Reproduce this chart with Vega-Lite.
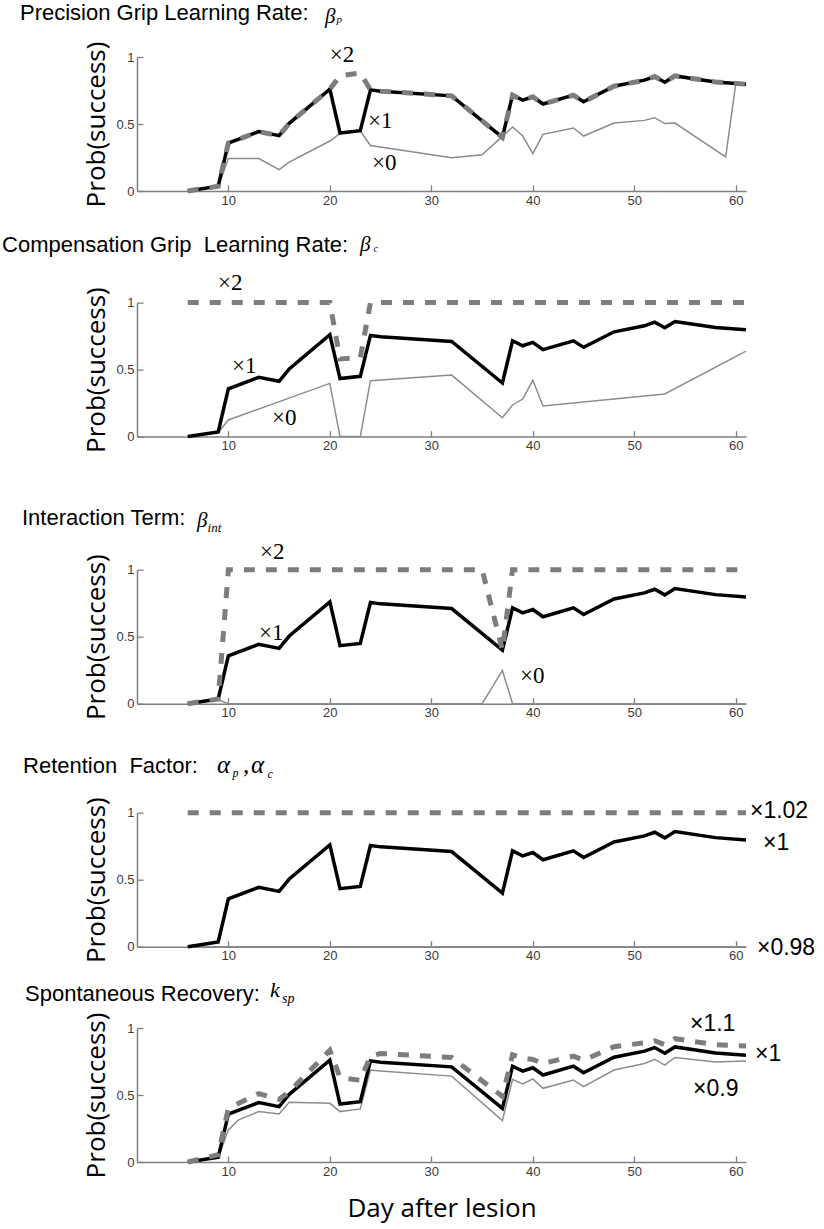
{
  "$schema": "https://vega.github.io/schema/vega-lite/v6.json",
  "padding": {"left": 2, "top": 2, "right": 2, "bottom": 2},
  "background": "white",
  "config": {
    "view": {"stroke": null},
    "axis": {"grid": false, "domainColor": "#7f7f7f", "domainWidth": 1.5, "tickColor": "#7f7f7f", "tickWidth": 1.3, "tickSize": -6, "labelFont": "Liberation Sans", "labelFontSize": 13, "labelColor": "#3a3a3a", "labelPadding": 9, "titleFont": "Open Sans", "titleFontSize": 26, "titleFontWeight": "normal", "titleColor": "#000000"},
    "axisY": {"titlePadding": 6},
    "axisX": {"titlePadding": 17}
  },
  "datasets": {
    "base": [{"day":6,"p":0},{"day":9,"p":0.035},{"day":10,"p":0.357},{"day":13,"p":0.443},{"day":15,"p":0.413},{"day":16,"p":0.505},{"day":20,"p":0.76},{"day":21,"p":0.433},{"day":23,"p":0.45},{"day":24,"p":0.755},{"day":25,"p":0.745},{"day":32,"p":0.71},{"day":37,"p":0.4},{"day":38,"p":0.715},{"day":39,"p":0.678},{"day":40,"p":0.703},{"day":41,"p":0.649},{"day":44,"p":0.715},{"day":45,"p":0.666},{"day":48,"p":0.782},{"day":51,"p":0.827},{"day":52,"p":0.854},{"day":53,"p":0.812},{"day":54,"p":0.859},{"day":58,"p":0.814},{"day":61,"p":0.797}],
    "s1": [
      {"s":"hi","day":6,"p":0},{"s":"hi","day":9,"p":0.035},{"s":"hi","day":10,"p":0.357},{"s":"hi","day":13,"p":0.443},{"s":"hi","day":15,"p":0.413},{"s":"hi","day":16,"p":0.505},{"s":"hi","day":20,"p":0.76},{"s":"hi","day":21,"p":0.86},{"s":"hi","day":23,"p":0.88},{"s":"hi","day":24,"p":0.755},{"s":"hi","day":25,"p":0.745},{"s":"hi","day":32,"p":0.71},{"s":"hi","day":37,"p":0.4},{"s":"hi","day":38,"p":0.715},{"s":"hi","day":39,"p":0.678},{"s":"hi","day":40,"p":0.703},{"s":"hi","day":41,"p":0.649},{"s":"hi","day":44,"p":0.715},{"s":"hi","day":45,"p":0.666},{"s":"hi","day":48,"p":0.782},{"s":"hi","day":51,"p":0.827},{"s":"hi","day":52,"p":0.854},{"s":"hi","day":53,"p":0.812},{"s":"hi","day":54,"p":0.859},{"s":"hi","day":58,"p":0.814},{"s":"hi","day":61,"p":0.797},
      {"s":"lo","day":6,"p":0},{"s":"lo","day":9,"p":0.035},{"s":"lo","day":10,"p":0.242},{"s":"lo","day":13,"p":0.242},{"s":"lo","day":15,"p":0.16},{"s":"lo","day":16,"p":0.215},{"s":"lo","day":20,"p":0.373},{"s":"lo","day":21,"p":0.43},{"s":"lo","day":23,"p":0.45},{"s":"lo","day":24,"p":0.34},{"s":"lo","day":32,"p":0.249},{"s":"lo","day":35,"p":0.271},{"s":"lo","day":37,"p":0.408},{"s":"lo","day":38,"p":0.478},{"s":"lo","day":39,"p":0.41},{"s":"lo","day":40,"p":0.279},{"s":"lo","day":41,"p":0.423},{"s":"lo","day":44,"p":0.47},{"s":"lo","day":45,"p":0.41},{"s":"lo","day":48,"p":0.507},{"s":"lo","day":51,"p":0.527},{"s":"lo","day":52,"p":0.547},{"s":"lo","day":53,"p":0.503},{"s":"lo","day":54,"p":0.507},{"s":"lo","day":59,"p":0.254},{"s":"lo","day":60,"p":0.806}
    ],
    "s2": [
      {"s":"hi","day":6,"p":1},{"s":"hi","day":9,"p":1},{"s":"hi","day":10,"p":1},{"s":"hi","day":13,"p":1},{"s":"hi","day":15,"p":1},{"s":"hi","day":16,"p":1},{"s":"hi","day":20,"p":1},{"s":"hi","day":21,"p":0.58},{"s":"hi","day":23,"p":0.59},{"s":"hi","day":24,"p":1},{"s":"hi","day":25,"p":1},{"s":"hi","day":32,"p":1},{"s":"hi","day":37,"p":1},{"s":"hi","day":38,"p":1},{"s":"hi","day":39,"p":1},{"s":"hi","day":40,"p":1},{"s":"hi","day":41,"p":1},{"s":"hi","day":44,"p":1},{"s":"hi","day":45,"p":1},{"s":"hi","day":48,"p":1},{"s":"hi","day":51,"p":1},{"s":"hi","day":52,"p":1},{"s":"hi","day":53,"p":1},{"s":"hi","day":54,"p":1},{"s":"hi","day":58,"p":1},{"s":"hi","day":61,"p":1},
      {"s":"lo","day":6,"p":0},{"s":"lo","day":9,"p":0.03},{"s":"lo","day":10,"p":0.124},{"s":"lo","day":20,"p":0.397},{"s":"lo","day":21,"p":0},{"s":"lo","day":23,"p":0},{"s":"lo","day":24,"p":0.417},{"s":"lo","day":32,"p":0.459},{"s":"lo","day":37,"p":0.141},{"s":"lo","day":38,"p":0.236},{"s":"lo","day":39,"p":0.28},{"s":"lo","day":40,"p":0.42},{"s":"lo","day":41,"p":0.228},{"s":"lo","day":53,"p":0.318},{"s":"lo","day":61,"p":0.638}
    ],
    "s3": [
      {"s":"hi","day":6,"p":0},{"s":"hi","day":9,"p":0.035},{"s":"hi","day":10,"p":1},{"s":"hi","day":13,"p":1},{"s":"hi","day":15,"p":1},{"s":"hi","day":16,"p":1},{"s":"hi","day":20,"p":1},{"s":"hi","day":21,"p":1},{"s":"hi","day":23,"p":1},{"s":"hi","day":24,"p":1},{"s":"hi","day":25,"p":1},{"s":"hi","day":32,"p":1},{"s":"hi","day":35,"p":1},{"s":"hi","day":37,"p":0.4},{"s":"hi","day":38,"p":1},{"s":"hi","day":39,"p":1},{"s":"hi","day":40,"p":1},{"s":"hi","day":41,"p":1},{"s":"hi","day":44,"p":1},{"s":"hi","day":45,"p":1},{"s":"hi","day":48,"p":1},{"s":"hi","day":51,"p":1},{"s":"hi","day":52,"p":1},{"s":"hi","day":53,"p":1},{"s":"hi","day":54,"p":1},{"s":"hi","day":58,"p":1},{"s":"hi","day":61,"p":1},
      {"s":"lo","day":6,"p":0},{"s":"lo","day":9,"p":0.03},{"s":"lo","day":10,"p":0},{"s":"lo","day":35,"p":0},{"s":"lo","day":37,"p":0.248},{"s":"lo","day":38,"p":0},{"s":"lo","day":61,"p":0}
    ],
    "s4": [
      {"s":"hi","day":6,"p":1},{"s":"hi","day":9,"p":1},{"s":"hi","day":10,"p":1},{"s":"hi","day":13,"p":1},{"s":"hi","day":15,"p":1},{"s":"hi","day":16,"p":1},{"s":"hi","day":20,"p":1},{"s":"hi","day":21,"p":1},{"s":"hi","day":23,"p":1},{"s":"hi","day":24,"p":1},{"s":"hi","day":25,"p":1},{"s":"hi","day":32,"p":1},{"s":"hi","day":37,"p":1},{"s":"hi","day":38,"p":1},{"s":"hi","day":39,"p":1},{"s":"hi","day":40,"p":1},{"s":"hi","day":41,"p":1},{"s":"hi","day":44,"p":1},{"s":"hi","day":45,"p":1},{"s":"hi","day":48,"p":1},{"s":"hi","day":51,"p":1},{"s":"hi","day":52,"p":1},{"s":"hi","day":53,"p":1},{"s":"hi","day":54,"p":1},{"s":"hi","day":58,"p":1},{"s":"hi","day":61,"p":1},
      {"s":"lo","day":6,"p":0},{"s":"lo","day":9,"p":0},{"s":"lo","day":10,"p":0},{"s":"lo","day":20,"p":0},{"s":"lo","day":24,"p":0},{"s":"lo","day":32,"p":0},{"s":"lo","day":37,"p":0},{"s":"lo","day":44,"p":0},{"s":"lo","day":54,"p":0},{"s":"lo","day":61,"p":0}
    ],
    "s5": [
      {"s":"hi","day":6,"p":0},{"s":"hi","day":9,"p":0.054},{"s":"hi","day":10,"p":0.4},{"s":"hi","day":13,"p":0.51},{"s":"hi","day":15,"p":0.468},{"s":"hi","day":16,"p":0.525},{"s":"hi","day":20,"p":0.834},{"s":"hi","day":21,"p":0.63},{"s":"hi","day":23,"p":0.61},{"s":"hi","day":24,"p":0.79},{"s":"hi","day":25,"p":0.81},{"s":"hi","day":32,"p":0.78},{"s":"hi","day":37,"p":0.49},{"s":"hi","day":38,"p":0.8},{"s":"hi","day":39,"p":0.775},{"s":"hi","day":40,"p":0.765},{"s":"hi","day":41,"p":0.735},{"s":"hi","day":44,"p":0.79},{"s":"hi","day":45,"p":0.76},{"s":"hi","day":48,"p":0.86},{"s":"hi","day":51,"p":0.89},{"s":"hi","day":52,"p":0.905},{"s":"hi","day":53,"p":0.875},{"s":"hi","day":54,"p":0.92},{"s":"hi","day":58,"p":0.875},{"s":"hi","day":61,"p":0.865},
      {"s":"lo","day":6,"p":0},{"s":"lo","day":9,"p":0.03},{"s":"lo","day":10,"p":0.24},{"s":"lo","day":11,"p":0.314},{"s":"lo","day":13,"p":0.376},{"s":"lo","day":15,"p":0.359},{"s":"lo","day":16,"p":0.446},{"s":"lo","day":20,"p":0.438},{"s":"lo","day":21,"p":0.376},{"s":"lo","day":23,"p":0.396},{"s":"lo","day":24,"p":0.686},{"s":"lo","day":25,"p":0.68},{"s":"lo","day":32,"p":0.641},{"s":"lo","day":37,"p":0.309},{"s":"lo","day":38,"p":0.617},{"s":"lo","day":39,"p":0.582},{"s":"lo","day":40,"p":0.62},{"s":"lo","day":41,"p":0.55},{"s":"lo","day":44,"p":0.611},{"s":"lo","day":45,"p":0.562},{"s":"lo","day":48,"p":0.686},{"s":"lo","day":51,"p":0.735},{"s":"lo","day":52,"p":0.767},{"s":"lo","day":53,"p":0.723},{"s":"lo","day":54,"p":0.78},{"s":"lo","day":58,"p":0.747},{"s":"lo","day":61,"p":0.753}
    ]
  },
  "spacing": 16,
  "vconcat": [
    {
      "spacing": 32.7,
      "vconcat": [
        {
          "spacing": 52.7,
          "vconcat": [
            {
              "spacing": 26.6,
              "vconcat": [
                {
                  "width": 609, "height": 134,
                  "encoding": {
                    "x": {"field": "day", "type": "quantitative", "scale": {"domain": [1, 61], "nice": false, "zero": false}, "axis": {"values": [10, 20, 30, 40, 50, 60], "title": null}},
                    "y": {"field": "p", "type": "quantitative", "scale": {"domain": [0, 1], "nice": false, "zero": false}, "axis": {"values": [0, 0.5, 1], "format": "~g", "title": "Prob(success)"}}
                  },
                  "layer": [
                    {"data": {"name": "s1"}, "transform": [{"filter": "datum.s === 'lo'"}], "mark": {"type": "line", "color": "#8c8c8c", "strokeWidth": 1.5}},
                    {"data": {"name": "base"}, "mark": {"type": "line", "color": "#000000", "strokeWidth": 3.5}},
                    {"data": {"name": "s1"}, "transform": [{"filter": "datum.s === 'hi'"}], "mark": {"type": "line", "color": "#7d7d7d", "strokeWidth": 5, "strokeDash": [11, 11]}},
                    {"data": {"values": [{"t": "×2", "day": 20.0, "p": 1.013}, {"t": "×1", "day": 23.76, "p": 0.52}, {"t": "×0", "day": 24.15, "p": 0.207}]}, "mark": {"type": "text", "font": "Liberation Serif, Times New Roman, serif", "fontSize": 23, "align": "left", "baseline": "middle", "color": "#000000"}, "encoding": {"text": {"field": "t"}}},
                    {"data": {"values": [{"t": "Precision Grip Learning Rate:", "day": -10.53, "p": 1.274}]}, "mark": {"type": "text", "font": "Liberation Sans", "fontSize": 22, "align": "left", "baseline": "alphabetic", "color": "#000000"}, "encoding": {"text": {"field": "t"}}},
                    {"data": {"values": [{"t": "β", "day": 19.52, "p": 1.255}]}, "mark": {"type": "text", "font": "Liberation Serif, Times New Roman, serif", "fontStyle": "italic", "fontSize": 21, "align": "left", "baseline": "alphabetic", "color": "#000000"}, "encoding": {"text": {"field": "t"}}},
                    {"data": {"values": [{"t": "p", "day": 20.65, "p": 1.251}]}, "mark": {"type": "text", "font": "Liberation Serif, Times New Roman, serif", "fontStyle": "italic", "fontSize": 11, "align": "left", "baseline": "alphabetic", "color": "#000000"}, "encoding": {"text": {"field": "t"}}}
                  ]
                },
                {
                  "width": 609, "height": 134,
                  "encoding": {
                    "x": {"field": "day", "type": "quantitative", "scale": {"domain": [1, 61], "nice": false, "zero": false}, "axis": {"values": [10, 20, 30, 40, 50, 60], "title": null}},
                    "y": {"field": "p", "type": "quantitative", "scale": {"domain": [0, 1], "nice": false, "zero": false}, "axis": {"values": [0, 0.5, 1], "format": "~g", "title": "Prob(success)"}}
                  },
                  "layer": [
                    {"data": {"name": "s2"}, "transform": [{"filter": "datum.s === 'lo'"}], "mark": {"type": "line", "color": "#8c8c8c", "strokeWidth": 1.5}},
                    {"data": {"name": "base"}, "mark": {"type": "line", "color": "#000000", "strokeWidth": 3.5}},
                    {"data": {"name": "s2"}, "transform": [{"filter": "datum.s === 'hi'"}], "mark": {"type": "line", "color": "#7d7d7d", "strokeWidth": 5, "strokeDash": [11, 11]}},
                    {"data": {"values": [{"t": "×2", "day": 8.98, "p": 1.146}, {"t": "×1", "day": 10.36, "p": 0.525}, {"t": "×0", "day": 14.3, "p": 0.142}]}, "mark": {"type": "text", "font": "Liberation Serif, Times New Roman, serif", "fontSize": 23, "align": "left", "baseline": "middle", "color": "#000000"}, "encoding": {"text": {"field": "t"}}},
                    {"data": {"values": [{"t": "Compensation Grip \u00a0Learning Rate:", "day": -12.3, "p": 1.378}]}, "mark": {"type": "text", "font": "Liberation Sans", "fontSize": 22, "align": "left", "baseline": "alphabetic", "color": "#000000"}, "encoding": {"text": {"field": "t"}}},
                    {"data": {"values": [{"t": "β", "day": 22.97, "p": 1.385}]}, "mark": {"type": "text", "font": "Liberation Serif, Times New Roman, serif", "fontStyle": "italic", "fontSize": 21, "align": "left", "baseline": "alphabetic", "color": "#000000"}, "encoding": {"text": {"field": "t"}}},
                    {"data": {"values": [{"t": "c", "day": 24.3, "p": 1.375}]}, "mark": {"type": "text", "font": "Liberation Serif, Times New Roman, serif", "fontStyle": "italic", "fontSize": 10, "align": "left", "baseline": "alphabetic", "color": "#000000"}, "encoding": {"text": {"field": "t"}}}
                  ]
                }
              ]
            },
            {
              "width": 609, "height": 134,
              "encoding": {
                "x": {"field": "day", "type": "quantitative", "scale": {"domain": [1, 61], "nice": false, "zero": false}, "axis": {"values": [10, 20, 30, 40, 50, 60], "title": null}},
                "y": {"field": "p", "type": "quantitative", "scale": {"domain": [0, 1], "nice": false, "zero": false}, "axis": {"values": [0, 0.5, 1], "format": "~g", "title": "Prob(success)"}}
              },
              "layer": [
                {"data": {"name": "s3"}, "transform": [{"filter": "datum.s === 'lo'"}], "mark": {"type": "line", "color": "#8c8c8c", "strokeWidth": 1.5}},
                {"data": {"name": "base"}, "mark": {"type": "line", "color": "#000000", "strokeWidth": 3.5}},
                {"data": {"name": "s3"}, "transform": [{"filter": "datum.s === 'hi'"}], "mark": {"type": "line", "color": "#7d7d7d", "strokeWidth": 5, "strokeDash": [11, 11]}},
                {"data": {"values": [{"t": "×2", "day": 13.12, "p": 1.129}, {"t": "×1", "day": 13.02, "p": 0.525}, {"t": "×0", "day": 38.73, "p": 0.209}]}, "mark": {"type": "text", "font": "Liberation Serif, Times New Roman, serif", "fontSize": 23, "align": "left", "baseline": "middle", "color": "#000000"}, "encoding": {"text": {"field": "t"}}},
                {"data": {"values": [{"t": "Interaction Term:", "day": -10.33, "p": 1.336}]}, "mark": {"type": "text", "font": "Liberation Sans", "fontSize": 22, "align": "left", "baseline": "alphabetic", "color": "#000000"}, "encoding": {"text": {"field": "t"}}},
                {"data": {"values": [{"t": "β", "day": 6.91, "p": 1.321}]}, "mark": {"type": "text", "font": "Liberation Serif, Times New Roman, serif", "fontStyle": "italic", "fontSize": 21, "align": "left", "baseline": "alphabetic", "color": "#000000"}, "encoding": {"text": {"field": "t"}}},
                {"data": {"values": [{"t": "int", "day": 7.95, "p": 1.278}]}, "mark": {"type": "text", "font": "Liberation Serif, Times New Roman, serif", "fontStyle": "italic", "fontSize": 13, "align": "left", "baseline": "alphabetic", "color": "#000000"}, "encoding": {"text": {"field": "t"}}}
              ]
            }
          ]
        },
        {
          "width": 609, "height": 134,
          "encoding": {
            "x": {"field": "day", "type": "quantitative", "scale": {"domain": [1, 61], "nice": false, "zero": false}, "axis": {"values": [10, 20, 30, 40, 50, 60], "title": null}},
            "y": {"field": "p", "type": "quantitative", "scale": {"domain": [0, 1], "nice": false, "zero": false}, "axis": {"values": [0, 0.5, 1], "format": "~g", "title": "Prob(success)"}}
          },
          "layer": [
            {"data": {"name": "s4"}, "transform": [{"filter": "datum.s === 'lo'"}], "mark": {"type": "line", "color": "#8c8c8c", "strokeWidth": 1.5}},
            {"data": {"name": "base"}, "mark": {"type": "line", "color": "#000000", "strokeWidth": 3.5}},
            {"data": {"name": "s4"}, "transform": [{"filter": "datum.s === 'hi'"}], "mark": {"type": "line", "color": "#7d7d7d", "strokeWidth": 5, "strokeDash": [11, 11]}},
            {"data": {"values": [{"t": "×1.02", "day": 61.39, "p": 1.013}, {"t": "×1", "day": 62.67, "p": 0.774}, {"t": "×0.98", "day": 62.08, "p": -0.01}]}, "mark": {"type": "text", "font": "Liberation Sans", "fontSize": 23, "align": "left", "baseline": "middle", "color": "#000000"}, "encoding": {"text": {"field": "t"}}},
            {"data": {"values": [{"t": "Retention \u00a0Factor:", "day": -10.23, "p": 1.296}]}, "mark": {"type": "text", "font": "Liberation Sans", "fontSize": 22, "align": "left", "baseline": "alphabetic", "color": "#000000"}, "encoding": {"text": {"field": "t"}}},
            {"data": {"values": [{"t": "α", "day": 8.88, "p": 1.296}, {"t": ",", "day": 11.44, "p": 1.296}, {"t": "α", "day": 12.23, "p": 1.296}]}, "mark": {"type": "text", "font": "Liberation Serif, Times New Roman, serif", "fontStyle": "italic", "fontSize": 25, "align": "left", "baseline": "alphabetic", "color": "#000000"}, "encoding": {"text": {"field": "t"}}},
            {"data": {"values": [{"t": "p", "day": 10.4, "p": 1.266}, {"t": "c", "day": 13.85, "p": 1.259}]}, "mark": {"type": "text", "font": "Liberation Serif, Times New Roman, serif", "fontStyle": "italic", "fontSize": 12, "align": "left", "baseline": "alphabetic", "color": "#000000"}, "encoding": {"text": {"field": "t"}}}
          ]
        }
      ]
    },
    {
      "width": 609, "height": 134,
      "encoding": {
        "x": {"field": "day", "type": "quantitative", "scale": {"domain": [1, 61], "nice": false, "zero": false}, "axis": {"values": [10, 20, 30, 40, 50, 60], "title": "Day after lesion"}},
        "y": {"field": "p", "type": "quantitative", "scale": {"domain": [0, 1], "nice": false, "zero": false}, "axis": {"values": [0, 0.5, 1], "format": "~g", "title": "Prob(success)"}}
      },
      "layer": [
        {"data": {"name": "s5"}, "transform": [{"filter": "datum.s === 'lo'"}], "mark": {"type": "line", "color": "#8c8c8c", "strokeWidth": 1.5}},
        {"data": {"name": "base"}, "mark": {"type": "line", "color": "#000000", "strokeWidth": 3.5}},
        {"data": {"name": "s5"}, "transform": [{"filter": "datum.s === 'hi'"}], "mark": {"type": "line", "color": "#7d7d7d", "strokeWidth": 5, "strokeDash": [11, 11]}},
        {"data": {"values": [{"t": "×1.1", "day": 55.48, "p": 1.028}, {"t": "×1", "day": 61.89, "p": 0.804}, {"t": "×0.9", "day": 55.78, "p": 0.543}]}, "mark": {"type": "text", "font": "Liberation Sans", "fontSize": 23, "align": "left", "baseline": "middle", "color": "#000000"}, "encoding": {"text": {"field": "t"}}},
        {"data": {"values": [{"t": "Spontaneous Recovery:", "day": -10.03, "p": 1.201}]}, "mark": {"type": "text", "font": "Liberation Sans", "fontSize": 22, "align": "left", "baseline": "alphabetic", "color": "#000000"}, "encoding": {"text": {"field": "t"}}},
        {"data": {"values": [{"t": "k", "day": 14.1, "p": 1.231}]}, "mark": {"type": "text", "font": "Liberation Serif, Times New Roman, serif", "fontStyle": "italic", "fontSize": 22, "align": "left", "baseline": "alphabetic", "color": "#000000"}, "encoding": {"text": {"field": "t"}}},
        {"data": {"values": [{"t": "sp", "day": 15.29, "p": 1.184}]}, "mark": {"type": "text", "font": "Liberation Serif, Times New Roman, serif", "fontStyle": "italic", "fontSize": 14, "align": "left", "baseline": "alphabetic", "color": "#000000"}, "encoding": {"text": {"field": "t"}}}
      ]
    }
  ]
}
